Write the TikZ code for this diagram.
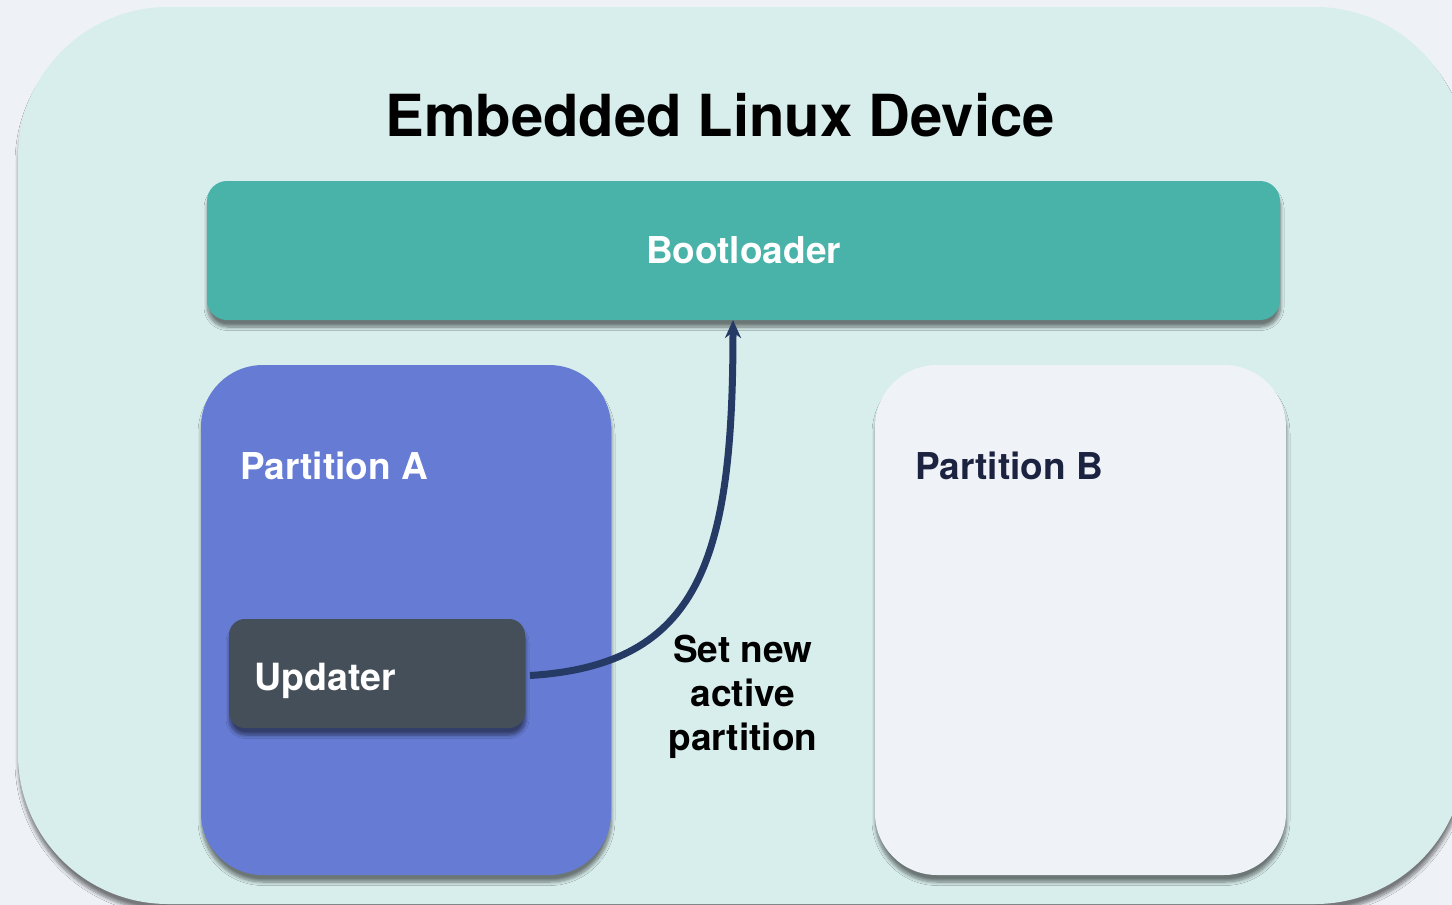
\documentclass[tikz,border=0pt]{standalone}
\usepackage{fontspec}
\setmainfont{TeX Gyre Heros}
\usetikzlibrary{shadows.blur,arrows.meta}

\definecolor{pagebg}{HTML}{EEF2F7}
\definecolor{devicefill}{HTML}{D8EEEC}
\definecolor{bootfill}{HTML}{4AB3A9}
\definecolor{partafill}{HTML}{667BD3}
\definecolor{partbfill}{HTML}{EFF3F8}
\definecolor{updfill}{HTML}{454F59}
\definecolor{arrowcol}{HTML}{263A66}
\definecolor{darktext}{HTML}{1B2340}

\tikzset{
  box/.style={draw=none, inner sep=0pt, outer sep=0pt,
    blur shadow={shadow xshift=0.5pt, shadow yshift=-7pt, shadow blur radius=3.5pt,
                 shadow blur steps=8, shadow opacity=50}},
  label/.style={inner sep=0pt, anchor=base west, font=\fontsize{37}{42}\selectfont\bfseries},
  flow/.style={draw=arrowcol, line width=7pt, -{Stealth[length=18pt,width=16pt]}},
}

\begin{document}
\begin{tikzpicture}[x=1pt, y=-1pt]
  \useasboundingbox (0,0) rectangle (1452,905);
  \clip (0,0) rectangle (1452,905);
  \fill[pagebg] (0,0) rectangle (1452,905);

  % device enclosure
  \node[box, fill=devicefill, rounded corners=150pt,
        minimum width=1447pt, minimum height=897pt] (device) at (741.5,455.5) {};
  \node[inner sep=0pt, font=\fontsize{58}{66}\selectfont\bfseries] (title) at (720,115) {Embedded Linux Device};

  % bootloader bar
  \node[box, fill=bootfill, rounded corners=20pt,
        minimum width=1073pt, minimum height=139pt,
        text=white, font=\fontsize{37}{42}\selectfont\bfseries] (bootloader) at (743.5,250.5) {Bootloader};

  % the two partitions
  \node[box, fill=partafill, rounded corners=62pt,
        minimum width=410pt, minimum height=510pt] (parta) at (406,620) {};
  \node[box, fill=partbfill, rounded corners=62pt,
        minimum width=411pt, minimum height=510pt] (partb) at (1080.5,620) {};
  \node[label, text=white] (partalabel) at (240,479) {Partition A};
  \node[label, text=darktext] (partblabel) at (915,479) {Partition B};

  % updater inside partition A
  \node[box, fill=updfill, rounded corners=16pt,
        minimum width=296pt, minimum height=109pt] (updater) at (377,673.5) {};
  \node[label, text=white, font=\fontsize{37.5}{42}\selectfont\bfseries] (updlabel) at (254,690) {Updater};

  % switch of the active partition
  \coordinate (start) at ([xshift=5pt, yshift=-2pt]updater.east);
  \coordinate (target) at (733,0 |- bootloader.south);
  \draw[flow] (start) .. controls (700,665) and (733,560) .. (target);
  \node[inner sep=0pt, align=center, font=\fontsize{37}{44}\selectfont\bfseries] (setlabel) at (743,697)
    {Set new\\active\\partition};
\end{tikzpicture}
\end{document}
